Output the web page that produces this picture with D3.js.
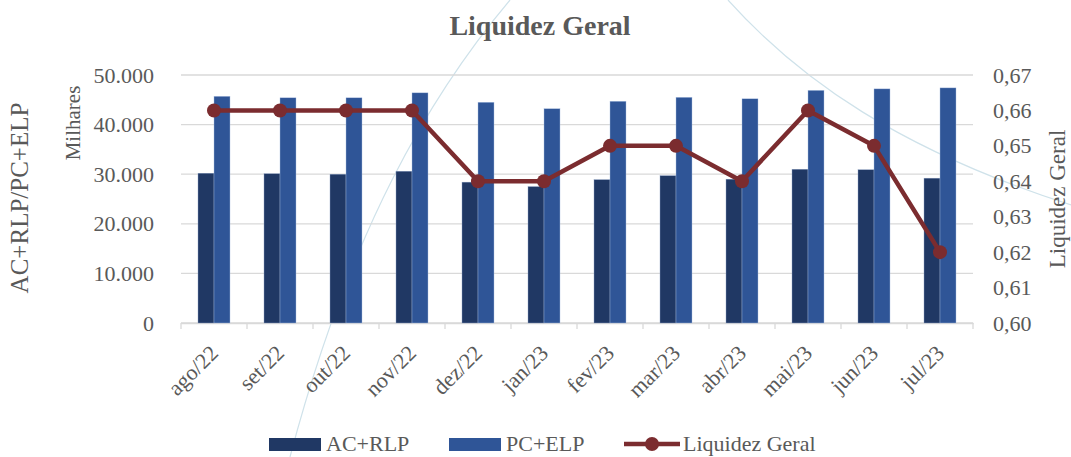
<!DOCTYPE html>
<html>
<head>
<meta charset="utf-8">
<script src="https://cdn.jsdelivr.net/npm/d3@7"></script>
<style>
  body { margin: 0; background: #fff; }
  text { font-family: "Liberation Serif", "DejaVu Serif", serif; fill: #595959; }
</style>
</head>
<body>
<div id="chart-area"></div>
<script>
var months = ["ago/22", "set/22", "out/22", "nov/22", "dez/22", "jan/23",
              "fev/23", "mar/23", "abr/23", "mai/23", "jun/23", "jul/23"];
var acRlp = [30200, 30100, 30000, 30600, 28400, 27500, 28900, 29700, 29000, 31000, 30900, 29200];
var pcElp = [45700, 45400, 45400, 46400, 44500, 43200, 44700, 45500, 45200, 46900, 47200, 47400];
var liquidez = [0.66, 0.66, 0.66, 0.66, 0.64, 0.64, 0.65, 0.65, 0.64, 0.66, 0.65, 0.62];
var leftTicks = [0, 10000, 20000, 30000, 40000, 50000];
var rightTicks = [0.60, 0.61, 0.62, 0.63, 0.64, 0.65, 0.66, 0.67];

var W = 1071, H = 457;
var margin = { left: 181, right: 98, top: 75, bottom: 134 };
var width = W - margin.left - margin.right;
var height = H - margin.top - margin.bottom;

var svg = d3.select("#chart-area")
    .append("svg")
        .attr("width", W)
        .attr("height", H);

// faint background swooshes
svg.append("path")
    .attr("d", "M510,0 C430,95 350,230 290,457")
    .attr("fill", "none")
    .attr("stroke", "#cfe2ea")
    .attr("stroke-width", 1.2);
svg.append("path")
    .attr("d", "M728,0 C800,80 900,150 1071,205")
    .attr("fill", "none")
    .attr("stroke", "#cfe2ea")
    .attr("stroke-width", 1.2);

var g = svg.append("g")
    .attr("transform", "translate(" + margin.left + "," + margin.top + ")");

var x = d3.scaleBand()
    .domain(months)
    .range([0, width]);
var x1 = d3.scaleBand()
    .domain(["ac", "pc"])
    .range([x.bandwidth() / 2 - 16, x.bandwidth() / 2 + 16]);
var y = d3.scaleLinear()
    .domain([0, 50000])
    .range([height, 0]);
var y2 = d3.scaleLinear()
    .domain([0.60, 0.67])
    .range([height, 0]);

// gridlines
g.selectAll(".grid")
    .data(leftTicks)
    .enter()
    .append("line")
        .attr("class", "grid")
        .attr("x1", 0)
        .attr("x2", width)
        .attr("y1", function(d){ return y(d); })
        .attr("y2", function(d){ return y(d); })
        .attr("stroke", "#d9d9d9")
        .attr("stroke-width", 1.3);

// left axis
var fmtThousand = function(d){ return d3.format(",")(d).replace(/,/g, "."); };
var yAxisCall = d3.axisLeft(y)
    .tickValues(leftTicks)
    .tickSize(0)
    .tickPadding(27)
    .tickFormat(fmtThousand);
var yAxis = g.append("g").call(yAxisCall);
yAxis.select(".domain").remove();
yAxis.selectAll("text")
    .attr("font-size", "22px")
    .attr("fill", "#595959")
    .attr("font-family", "Liberation Serif");

// right axis
var y2AxisCall = d3.axisRight(y2)
    .tickValues(rightTicks)
    .tickSize(0)
    .tickPadding(20)
    .tickFormat(function(d){ return d3.format(".2f")(d).replace(".", ","); });
var y2Axis = g.append("g")
    .attr("transform", "translate(" + width + ",0)")
    .call(y2AxisCall);
y2Axis.select(".domain").remove();
y2Axis.selectAll("text")
    .attr("font-size", "22px")
    .attr("fill", "#595959")
    .attr("font-family", "Liberation Serif");

// x axis
var xAxisCall = d3.axisBottom(x).tickSize(0).tickPadding(8);
var xAxis = g.append("g")
    .attr("transform", "translate(0," + height + ")")
    .call(xAxisCall);
xAxis.select(".domain")
    .attr("stroke", "#d9d9d9")
    .attr("stroke-width", 1.3);
xAxis.selectAll("text")
    .attr("font-size", "22px")
    .attr("fill", "#595959")
    .attr("font-family", "Liberation Serif")
    .attr("text-anchor", "end")
    .attr("dy", "0.35em")
    .attr("transform", "translate(0,26) rotate(-45)")
    .attr("y", 0)
    .attr("x", 0);
// ticks between categories
g.selectAll(".xtick")
    .data(months.concat(["end"]))
    .enter()
    .append("line")
        .attr("class", "xtick")
        .attr("x1", function(d, i){ return i * x.step(); })
        .attr("x2", function(d, i){ return i * x.step(); })
        .attr("y1", height)
        .attr("y2", height + 6)
        .attr("stroke", "#d9d9d9")
        .attr("stroke-width", 1.3);

// bars
var groups = g.selectAll(".month")
    .data(months)
    .enter()
    .append("g")
        .attr("class", "month")
        .attr("transform", function(d){ return "translate(" + x(d) + ",0)"; });

groups.append("rect")
    .attr("x", x1("ac"))
    .attr("width", x1.bandwidth())
    .attr("y", function(d, i){ return y(acRlp[i]); })
    .attr("height", function(d, i){ return height - y(acRlp[i]); })
    .attr("fill", "#203864")
    .attr("stroke", "#8fa3c6")
    .attr("stroke-width", 0.4);

groups.append("rect")
    .attr("x", x1("pc"))
    .attr("width", x1.bandwidth())
    .attr("y", function(d, i){ return y(pcElp[i]); })
    .attr("height", function(d, i){ return height - y(pcElp[i]); })
    .attr("fill", "#2f5597")
    .attr("stroke", "#a9bde0")
    .attr("stroke-width", 0.4);

// line
var line = d3.line()
    .x(function(d, i){ return x(months[i]) + x.bandwidth() / 2; })
    .y(function(d){ return y2(d); });

g.append("path")
    .attr("d", line(liquidez))
    .attr("fill", "none")
    .attr("stroke", "#7b2c2f")
    .attr("stroke-width", 4.5)
    .attr("stroke-linejoin", "round");

g.selectAll(".dot")
    .data(liquidez)
    .enter()
    .append("circle")
        .attr("class", "dot")
        .attr("cx", function(d, i){ return x(months[i]) + x.bandwidth() / 2; })
        .attr("cy", function(d){ return y2(d); })
        .attr("r", 7)
        .attr("fill", "#7b2c2f");

// title & axis labels
svg.append("text")
    .attr("x", 540)
    .attr("y", 35)
    .attr("text-anchor", "middle")
    .attr("font-size", "28px")
    .attr("font-weight", "bold")
    .text("Liquidez Geral");

svg.append("text")
    .attr("transform", "translate(80,123) rotate(-90)")
    .attr("text-anchor", "middle")
    .attr("font-size", "21px")
    .text("Milhares");

svg.append("text")
    .attr("transform", "translate(28,198) rotate(-90)")
    .attr("text-anchor", "middle")
    .attr("font-size", "25px")
    .text("AC+RLP/PC+ELP");

svg.append("text")
    .attr("transform", "translate(1065,199) rotate(-90)")
    .attr("text-anchor", "middle")
    .attr("font-size", "23px")
    .text("Liquidez Geral");

// legend
var legend = svg.append("g").attr("transform", "translate(0,444)");
legend.append("rect")
    .attr("x", 269).attr("y", -6).attr("width", 52).attr("height", 13)
    .attr("fill", "#203864");
legend.append("text")
    .attr("x", 326).attr("y", 7).attr("font-size", "22px")
    .text("AC+RLP");
legend.append("rect")
    .attr("x", 449).attr("y", -6).attr("width", 52).attr("height", 13)
    .attr("fill", "#2f5597");
legend.append("text")
    .attr("x", 506).attr("y", 7).attr("font-size", "22px")
    .text("PC+ELP");
legend.append("line")
    .attr("x1", 624).attr("x2", 680).attr("y1", 0).attr("y2", 0)
    .attr("stroke", "#7b2c2f").attr("stroke-width", 4.5);
legend.append("circle")
    .attr("cx", 652).attr("cy", 0).attr("r", 7)
    .attr("fill", "#7b2c2f");
legend.append("text")
    .attr("x", 683).attr("y", 7).attr("font-size", "22px")
    .text("Liquidez Geral");
</script>
</body>
</html>
